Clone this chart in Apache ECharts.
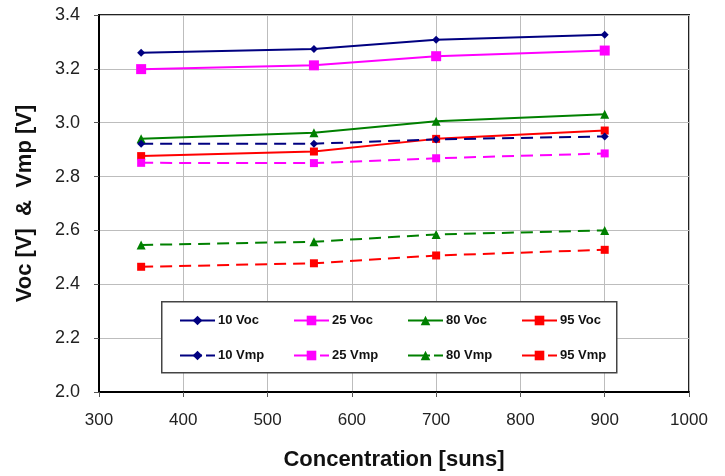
<!DOCTYPE html>
<html>
<head>
<meta charset="utf-8">
<script src="https://cdn.jsdelivr.net/npm/echarts@6/dist/echarts.min.js"></script>
<style>
html,body{margin:0;padding:0;background:#fff;}
#chart{width:725px;height:476px;}
</style>
</head>
<body>
<div id="chart"></div>
<script>
// Concentration values (suns)
const concentration = [350, 555, 700, 900];
// Series values (V)
const voc10 = [3.260, 3.274, 3.308, 3.327];
const voc25 = [3.199, 3.213, 3.247, 3.268];
const voc80 = [2.940, 2.963, 3.005, 3.031];
const voc95 = [2.876, 2.893, 2.940, 2.971];
const vmp10 = [2.922, 2.922, 2.938, 2.949];
const vmp25 = [2.851, 2.850, 2.868, 2.886];
const vmp80 = [2.546, 2.558, 2.585, 2.600];
const vmp95 = [2.465, 2.478, 2.507, 2.528];
const seriesNames = ['10 Voc','25 Voc','80 Voc','95 Voc','10 Vmp','25 Vmp','80 Vmp','95 Vmp'];
const seriesValues = [voc10, voc25, voc80, voc95, vmp10, vmp25, vmp80, vmp95];
const xTicks = [300, 400, 500, 600, 700, 800, 900, 1000];
const yTicks = [2.0, 2.2, 2.4, 2.6, 2.8, 3.0, 3.2, 3.4];

const colors = ['#000080','#FF00FF','#008000','#FF0000','#000080','#FF00FF','#008000','#FF0000'];
const symbols = ['diamond','rect','triangle','rect','diamond','rect','triangle','rect'];
const symSizes = [8, 10, 9, 8, 8, 8, 9, 8];

const chart = echarts.init(document.getElementById('chart'), null, {renderer:'canvas'});

const series = seriesNames.map((name, i) => ({
  name: name,
  type: 'line',
  data: concentration.map((c, j) => [c, seriesValues[i][j]]),
  symbol: symbols[i],
  symbolSize: symSizes[i],
  showSymbol: true,
  animation: false,
  itemStyle: { color: colors[i] },
  lineStyle: { color: colors[i], width: 2, type: i >= 4 ? [12, 7] : 'solid' },
  z: 3
}));

const colX = [179, 293, 407, 521];
const rowY = [314, 349];
const legends = seriesNames.map((name, i) => {
  const lg = {
    data: [{ name: name, itemStyle: { color: colors[i] } }],
    left: colX[i % 4],
    top: rowY[Math.floor(i / 4)],
    itemWidth: 35,
    itemHeight: 12,
    itemGap: 4,
    padding: 0,
    textStyle: { fontFamily: 'Liberation Sans, Arial', fontWeight: 'bold', fontSize: 13, color: '#111', padding:[0,0,0,-2] },
    selectedMode: false
  };
  if (i >= 4) lg.lineStyle = { type: [22, 4], width: 2 };
  return lg;
});

chart.setOption({
  backgroundColor: '#fff',
  animation: false,
  grid: { left: 99, right: 36, top: 15, bottom: 83, show: true, borderColor: '#222', borderWidth: 2, backgroundColor: 'transparent' },
  xAxis: {
    type: 'value', min: xTicks[0], max: xTicks[xTicks.length-1], interval: 100,
    name: 'Concentration [suns]', nameLocation: 'middle', nameGap: 57,
    nameTextStyle: { fontFamily: 'Liberation Sans, Arial', fontWeight: 'bold', fontSize: 22, color: '#111' },
    axisLine: { show: true, lineStyle: { color: '#000', width: 2 } },
    axisTick: { show: true, length: 5, lineStyle: { color: '#555' } },
    axisLabel: { fontFamily: 'Liberation Sans, Arial', fontSize: 17, color: '#222', margin: 20, formatter: v => String(v) },
    splitLine: { show: true, lineStyle: { color: '#bdbdbd', width: 1 } }
  },
  yAxis: {
    type: 'value', min: yTicks[0], max: yTicks[yTicks.length-1], interval: 0.2,
    name: 'Voc [V]  &  Vmp [V]', nameLocation: 'middle', nameGap: 63,
    nameTextStyle: { fontFamily: 'Liberation Sans, Arial', fontWeight: 'bold', fontSize: 22, color: '#111' },
    axisLine: { show: true, lineStyle: { color: '#000', width: 2 } },
    axisTick: { show: true, length: 5, lineStyle: { color: '#555' } },
    axisLabel: { fontFamily: 'Liberation Sans, Arial', fontSize: 18, color: '#222', margin: 19, formatter: v => v.toFixed(1) },
    splitLine: { show: true, lineStyle: { color: '#bdbdbd', width: 1 } }
  },
  legend: legends,
  graphic: [{
    type: 'rect', left: 161, top: 301, z: 2,
    shape: { width: 455, height: 71 },
    style: { fill: '#fff', stroke: '#444', lineWidth: 1.5 }
  }],
  series: series
});
</script>
</body>
</html>
